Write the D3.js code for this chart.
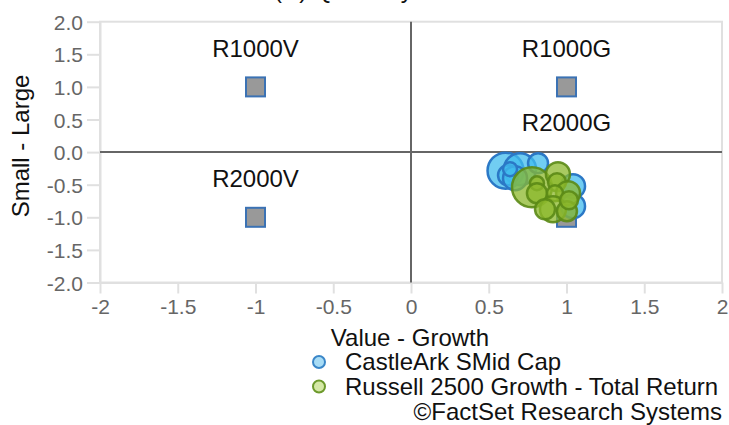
<!DOCTYPE html>
<html><head><meta charset="utf-8">
<script src="https://cdn.jsdelivr.net/npm/d3@7/dist/d3.min.js"></script>
<style>
html,body{margin:0;padding:0;background:#fff;}
svg{display:block;font-family:"Liberation Sans",Arial,sans-serif;}
</style></head>
<body><svg id="c" width="729" height="425"></svg>
<script>
const xTicks = [-2, -1.5, -1, -0.5, 0, 0.5, 1, 1.5, 2];
const yTicks = [2, 1.5, 1, 0.5, 0, -0.5, -1, -1.5, -2];
const xTickLabels = ["-2", "-1.5", "-1", "-0.5", "0", "0.5", "1", "1.5", "2"];
const yTickLabels = ["2.0", "1.5", "1.0", "0.5", "0.0", "-0.5", "-1.0", "-1.5", "-2.0"];

const indexNames = ["R1000V", "R1000G", "R2000V", "R2000G"];
const indexX = [-1, 1, -1, 1];
const indexY = [1, 1, -1, -1];

const seriesNames = ["CastleArk SMid Cap", "Russell 2500 Growth - Total Return"];
const castleX = [0.608, 0.701, 0.624, 0.669, 0.817, 0.637, 1.042, 1.042];
const castleY = [-0.285, -0.262, -0.354, -0.400, -0.170, -0.262, -0.523, -0.830];
const castleW = [18, 16, 10, 12, 10, 7, 12, 12];
const russellX = [0.778, 0.945, 0.810, 0.810, 0.939, 1.010, 0.926, 0.913, 1.003, 0.862, 1.016];
const russellY = [-0.538, -0.339, -0.477, -0.630, -0.462, -0.630, -0.630, -0.876, -0.906, -0.876, -0.738];
const russellW = [20, 12, 7, 10, 9, 12, 8, 13, 10, 10, 9];

const svg = d3.select("#c");
const x = d3.scaleLinear().domain([-2, 2]).range([100, 722]);
const y = d3.scaleLinear().domain([-2, 2]).range([282.5, 21.7]);
const r = d3.scaleLinear().domain([0, 20]).range([0, 20]);
const tickCol = "#666", frameCol = "#e0e0e0";
const FS = 24;

// cut-off title (only its lowest strokes show, as in the reference)
svg.append("text").attr("x", 274).attr("y", -2.5).attr("font-size", FS).attr("fill", "#111")
  .text("(R) Quarterly");

// frame
svg.append("rect").attr("x", x(-2)).attr("y", y(2)).attr("width", x(2) - x(-2)).attr("height", y(-2) - y(2))
  .attr("fill", "none").attr("stroke", frameCol).attr("stroke-width", 2);

// x axis
const xa = svg.append("g").attr("transform", `translate(0,${y(-2)})`)
  .call(d3.axisBottom(x).tickValues(xTicks).tickSize(11).tickSizeOuter(0)
    .tickFormat((d, i) => xTickLabels[i]));
xa.select(".domain").attr("stroke", frameCol).attr("stroke-width", 2);
xa.selectAll(".tick line").attr("stroke", frameCol).attr("stroke-width", 2);
xa.selectAll(".tick text").attr("fill", tickCol).attr("font-size", 21).attr("font-family", "Liberation Sans, Arial, sans-serif").attr("dy", "0.95em").attr("y", 12);

// y axis
const ya = svg.append("g").attr("transform", `translate(${x(-2)},0)`)
  .call(d3.axisLeft(y).tickValues(yTicks).tickSize(13).tickSizeOuter(0)
    .tickFormat((d, i) => yTickLabels[i]));
ya.select(".domain").attr("stroke", frameCol).attr("stroke-width", 2);
ya.selectAll(".tick line").attr("stroke", frameCol).attr("stroke-width", 2);
ya.selectAll(".tick text").attr("fill", tickCol).attr("font-size", 21).attr("font-family", "Liberation Sans, Arial, sans-serif").attr("x", -17).attr("dy", "0.36em");

// quadrant lines
svg.append("line").attr("x1", x(0)).attr("x2", x(0)).attr("y1", y(2)).attr("y2", y(-2))
  .attr("stroke", "#666").attr("stroke-width", 2);
svg.append("line").attr("x1", x(-2)).attr("x2", x(2)).attr("y1", y(0)).attr("y2", y(0))
  .attr("stroke", "#666").attr("stroke-width", 2);

// axis titles
svg.append("text").attr("x", x(0) - 1).attr("y", 346).attr("text-anchor", "middle")
  .attr("font-size", FS).attr("fill", "#111").text("Value - Growth");
svg.append("text").attr("transform", `translate(29,146) rotate(-90)`).attr("text-anchor", "middle")
  .attr("font-size", FS).attr("fill", "#111").text("Small - Large");

// index squares
const idx = indexNames.map((n, i) => ({n, x: indexX[i], y: indexY[i]}));
const sq = 19;
svg.append("g").selectAll("rect").data(idx).join("rect")
  .attr("x", d => x(d.x) - sq / 2).attr("y", d => y(d.y) - sq / 2)
  .attr("width", sq).attr("height", sq)
  .attr("fill", "#999").attr("stroke", "#3b72b4").attr("stroke-width", 2);

// series bubbles
const castle = castleX.map((v, i) => ({x: v, y: castleY[i], w: castleW[i]}));
const russell = russellX.map((v, i) => ({x: v, y: russellY[i], w: russellW[i]}));
svg.append("g").selectAll("circle").data(castle).join("circle")
  .attr("cx", d => x(d.x)).attr("cy", d => y(d.y)).attr("r", d => r(d.w))
  .attr("fill", "#42bcee").attr("fill-opacity", 0.75)
  .attr("stroke", "#2b78c6").attr("stroke-width", 2.5);
svg.append("g").selectAll("circle").data(russell).join("circle")
  .attr("cx", d => x(d.x)).attr("cy", d => y(d.y)).attr("r", d => r(d.w))
  .attr("fill", "#8cb82c").attr("fill-opacity", 0.75)
  .attr("stroke", "#5b8a16").attr("stroke-width", 2.5).attr("stroke-opacity", 0.9);

// index labels (R2000G lifted above the bubble cluster)
const lift = {R2000G: 86};
svg.append("g").selectAll("text").data(idx).join("text")
  .attr("x", d => x(d.x)).attr("y", d => y(d.y) - (lift[d.n] || 30))
  .attr("text-anchor", "middle").attr("font-size", FS).attr("fill", "#111").text(d => d.n);

// legend
const legFill = ["#a8dcf5", "#d5e8a6"], legStroke = ["#3a86c8", "#6d9a2c"];
const lg = svg.append("g");
seriesNames.forEach((s, i) => {
  lg.append("circle").attr("cx", 319).attr("cy", 362 + i * 24.5).attr("r", 6)
    .attr("fill", legFill[i]).attr("stroke", legStroke[i]).attr("stroke-width", 2);
  lg.append("text").attr("x", 345).attr("y", 370 + i * 24.5).attr("font-size", FS).attr("fill", "#111").text(s);
});
svg.append("text").attr("x", 722).attr("y", 420).attr("text-anchor", "end")
  .attr("font-size", FS).attr("fill", "#111").text("©FactSet Research Systems");
</script></body></html>
